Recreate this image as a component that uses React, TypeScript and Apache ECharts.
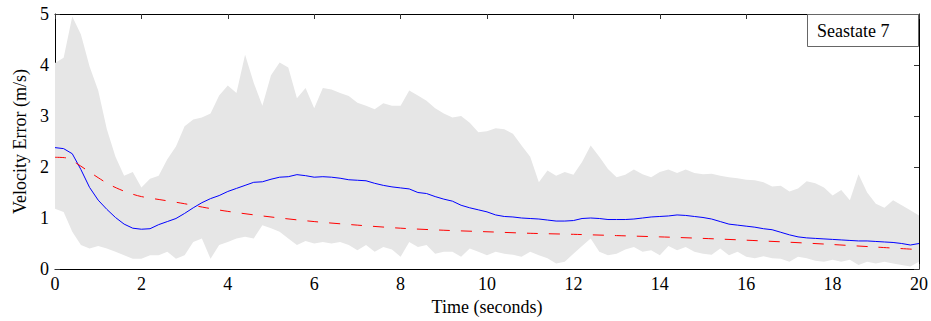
import React, { useEffect, useRef } from "react";
import * as echarts from "echarts";

// Time step of the sampled series (seconds)
const STEP = 0.2;

// Upper bound of the shaded band (m/s), t = 0..20 s every 0.2 s
const upperBand = [
  4.04, 4.14, 4.95, 4.6, 3.97, 3.5, 2.74, 2.2, 1.83, 1.9,
  1.6, 1.77, 1.83, 2.15, 2.4, 2.8, 2.93, 2.97, 3.05, 3.4,
  3.6, 3.45, 4.2, 3.65, 3.2, 3.8, 4.05, 3.95, 3.35, 3.55,
  3.15, 3.55, 3.52, 3.45, 3.39, 3.26, 3.2, 3.13, 3.25, 3.2,
  3.2, 3.5, 3.4, 3.3, 3.15, 3.05, 2.97, 3.0, 2.87, 2.68,
  2.7, 2.76, 2.74, 2.65, 2.42, 2.2, 1.7, 1.93, 1.83, 1.9,
  1.85, 2.1, 2.42, 2.2, 1.96, 1.8, 1.85, 1.95, 1.86, 1.8,
  1.9, 1.95, 1.88, 1.95, 1.88, 1.86, 1.87, 1.83, 1.8, 1.78,
  1.75, 1.74, 1.7, 1.62, 1.63, 1.52, 1.58, 1.72, 1.68, 1.6,
  1.44, 1.55, 1.35, 1.86, 1.5, 1.28, 1.2, 1.35, 1.25, 1.15,
  1.05,
];

// Lower bound of the shaded band (m/s)
const lowerBand = [
  1.18, 1.12, 0.73, 0.47, 0.4, 0.45, 0.4, 0.34, 0.27, 0.2,
  0.2, 0.27, 0.27, 0.34, 0.2, 0.27, 0.53, 0.6, 0.2, 0.47,
  0.53, 0.6, 0.63, 0.6, 0.86, 0.8, 0.73, 0.6, 0.47, 0.55,
  0.5, 0.53, 0.5, 0.53, 0.47, 0.37, 0.47, 0.34, 0.43, 0.38,
  0.24, 0.53, 0.43, 0.47, 0.3, 0.34, 0.34, 0.24, 0.4, 0.34,
  0.27, 0.34, 0.3, 0.28, 0.24, 0.34, 0.27, 0.21, 0.11, 0.14,
  0.3, 0.45, 0.6, 0.34, 0.27, 0.3, 0.38, 0.43, 0.34, 0.37,
  0.27, 0.45, 0.37, 0.43, 0.34, 0.3, 0.28, 0.4, 0.27, 0.34,
  0.24, 0.21, 0.25, 0.21, 0.2, 0.14, 0.24, 0.21, 0.16, 0.14,
  0.18, 0.14, 0.18, 0.08, 0.14, 0.11, 0.14, 0.11, 0.08, 0.05,
  0.14,
];

// Mean velocity error (blue line)
const meanError = [
  2.38, 2.36, 2.26, 1.95, 1.6, 1.35, 1.17, 1.01, 0.88, 0.8,
  0.78, 0.79, 0.87, 0.93, 0.99, 1.09, 1.2, 1.3, 1.38, 1.44,
  1.52, 1.58, 1.64, 1.7, 1.71, 1.76, 1.8, 1.81, 1.85, 1.83,
  1.8, 1.81, 1.8, 1.78, 1.75, 1.74, 1.73, 1.68, 1.64, 1.61,
  1.59, 1.57, 1.5, 1.48, 1.42, 1.37, 1.33, 1.25, 1.2, 1.16,
  1.12, 1.06, 1.03, 1.02, 1.0, 0.99, 0.98, 0.96, 0.94, 0.94,
  0.95, 0.99, 1.0, 0.99, 0.97, 0.97, 0.97, 0.98, 1.0, 1.02,
  1.03, 1.04, 1.06, 1.05, 1.03, 1.01, 0.98, 0.93, 0.88, 0.86,
  0.84, 0.82, 0.79, 0.77, 0.72, 0.67, 0.63, 0.61, 0.6, 0.59,
  0.58, 0.57, 0.56, 0.55, 0.55, 0.54, 0.53, 0.52, 0.5, 0.47,
  0.5,
];

// Predicted error (red dashed curve)
const predTimes = [
  0, 0.25, 0.5, 0.75, 1, 1.25, 1.5, 1.75, 2, 2.5, 3, 3.5, 4, 5, 6, 7, 8, 9,
  10, 11, 12, 13, 14, 15, 16, 17, 18, 19, 20,
];
const predError = [
  2.19, 2.18, 2.07, 1.93, 1.79, 1.66, 1.56, 1.48, 1.42, 1.35, 1.28, 1.2,
  1.13, 1.02, 0.93, 0.86, 0.8, 0.76, 0.73, 0.7, 0.68, 0.655, 0.63, 0.6,
  0.565, 0.525, 0.48, 0.43, 0.38,
];

const xTicks = [0, 2, 4, 6, 8, 10, 12, 14, 16, 18, 20];
const yTicks = [0, 1, 2, 3, 4, 5];
const legendText = "Seastate 7";

const FONT = "'Liberation Serif', 'Times New Roman', serif";

export default function App() {
  const ref = useRef<HTMLDivElement>(null);

  useEffect(() => {
    if (!ref.current) return;
    const chart = echarts.init(ref.current, null, { renderer: "svg" });

    const t = (i: number) => Math.round(i * STEP * 10) / 10;
    const lowerData = lowerBand.map((v, i) => [t(i), v]);
    const upperData = upperBand.map((v, i) => [t(i), v]);
    const meanData = meanError.map((v, i) => [t(i), v]);
    const predData = predError.map((v, i) => [predTimes[i], v]);

    const tickStyle = { show: true, inside: true, length: 5, lineStyle: { color: "#333", width: 1 } };
    const lineStyleAxis = { show: true, onZero: false, lineStyle: { color: "#000", width: 1 } };
    const labelStyle = { fontFamily: FONT, fontSize: 18, color: "#000" };

    chart.setOption({
      animation: false,
      backgroundColor: "#fff",
      grid: { left: 55, right: 12, top: 14, bottom: 50, containLabel: false },
      xAxis: [
        {
          type: "value",
          min: xTicks[0],
          max: xTicks[xTicks.length - 1],
          interval: 2,
          position: "bottom",
          axisLine: lineStyleAxis,
          axisTick: tickStyle,
          splitLine: { show: false },
          axisLabel: { ...labelStyle, margin: 6 },
          name: "Time (seconds)",
          nameLocation: "middle",
          nameGap: 29,
          nameTextStyle: { fontFamily: FONT, fontSize: 18, color: "#000" },
        },
        {
          type: "value",
          min: xTicks[0],
          max: xTicks[xTicks.length - 1],
          interval: 2,
          position: "top",
          axisLine: lineStyleAxis,
          axisTick: tickStyle,
          splitLine: { show: false },
          axisLabel: { show: false },
        },
      ],
      yAxis: [
        {
          type: "value",
          min: yTicks[0],
          max: yTicks[yTicks.length - 1],
          interval: 1,
          position: "left",
          axisLine: lineStyleAxis,
          axisTick: tickStyle,
          splitLine: { show: false },
          axisLabel: { ...labelStyle, margin: 6 },
          name: "Velocity Error (m/s)",
          nameLocation: "middle",
          nameGap: 22,
          nameTextStyle: { fontFamily: FONT, fontSize: 18, color: "#000" },
        },
        {
          type: "value",
          min: yTicks[0],
          max: yTicks[yTicks.length - 1],
          interval: 1,
          position: "right",
          axisLine: lineStyleAxis,
          axisTick: tickStyle,
          splitLine: { show: false },
          axisLabel: { show: false },
        },
      ],
      series: [
        {
          type: "line",
          name: "upper",
          data: upperData,
          symbol: "none",
          lineStyle: { width: 0, opacity: 0 },
          areaStyle: { color: "#e6e6e6", opacity: 1, origin: "start" },
          silent: true,
          z: 1,
        },
        {
          type: "line",
          name: "lower",
          data: lowerData,
          symbol: "none",
          lineStyle: { width: 0, opacity: 0 },
          areaStyle: { color: "#ffffff", opacity: 1, origin: "start" },
          silent: true,
          z: 1,
        },
        {
          type: "line",
          name: "mean",
          data: meanData,
          symbol: "none",
          lineStyle: { color: "#0000ff", width: 1 },
          z: 3,
        },
        {
          type: "line",
          name: "predicted",
          data: predData,
          symbol: "none",
          smooth: 0.3,
          lineStyle: { color: "#ff0000", width: 1, type: [11, 11] },
          z: 4,
        },
      ],
      graphic: [
        {
          type: "rect",
          shape: { x: 807.5, y: 14.5, width: 111, height: 32 },
          style: { fill: "#fff", stroke: "#666", lineWidth: 1 },
          z: 100,
        },
        {
          type: "text",
          x: 817,
          y: 31,
          style: {
            text: legendText,
            font: `18px ${FONT}`,
            fill: "#000",
            verticalAlign: "middle",
            align: "left",
          },
          z: 101,
        },
      ],
    });

    return () => chart.dispose();
  }, []);

  return (
    <div
      ref={ref}
      style={{ position: "fixed", left: 0, top: 0, width: 931, height: 321 }}
    />
  );
}
